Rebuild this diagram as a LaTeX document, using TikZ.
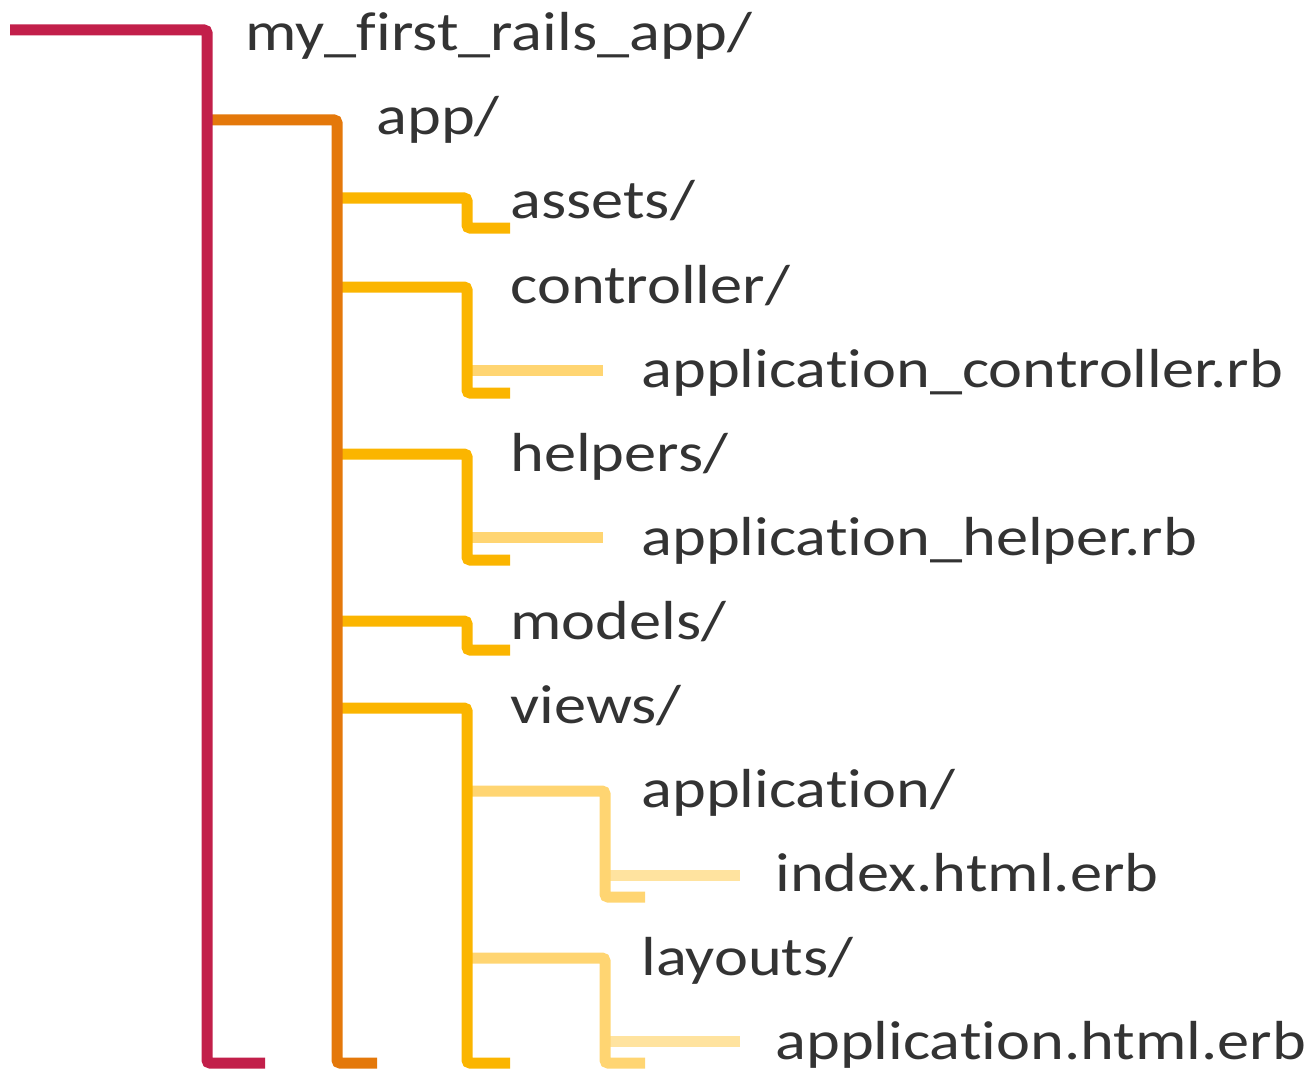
\documentclass[tikz,border=0pt]{standalone}
\usepackage{fontspec}
\setmainfont[FakeStretch=1.17, Ligatures=NoCommon]{Carlito}
\usetikzlibrary{positioning}

\definecolor{lvlzero}{HTML}{C21F4A}
\definecolor{lvlone}{HTML}{E4780A}
\definecolor{lvltwo}{HTML}{FBB500}
\definecolor{lvlthree}{HTML}{FFD572}
\definecolor{lvlfour}{HTML}{FFE39F}
\definecolor{txtgray}{HTML}{333333}

\begin{document}
\begin{tikzpicture}[
				x=0.5pt, y=-0.5pt,
				branch/.style={line width=5.5pt, rounded corners=1.5pt},
				entry/.style={anchor=base west, inner sep=0pt, text=txtgray, font=\fontsize{27.5}{30}\selectfont}
			]

			\useasboundingbox (0, 0) rectangle (1309, 1075);

			% x positions of the vertical bars
			\def \xa {207}
			\def \xb {337}
			\def \xc {467}
			\def \xd {605}

			% deepest files first
			\draw[branch, lvlfour] (\xd, 875) -- (740, 875);
			\draw[branch, lvlfour] (\xd, 1041) -- (740, 1041);

			\draw[branch, lvlthree] (\xc, 370) -- (603, 370);
			\draw[branch, lvlthree] (\xc, 537) -- (603, 537);
			\draw[branch, lvlthree] (\xc, 791) -| (\xd, 897) -- (645, 897);
			\draw[branch, lvlthree] (\xc, 958) -| (\xd, 1063) -- (645, 1063);

			\foreach \y/\e in {198/228, 287/393, 454/560, 621/650, 708/1063} {
					\draw[branch, lvltwo] (\xb, \y) -| (\xc, \e) -- (510, \e);
				}

			\draw[branch, lvlone] (\xa, 120) -| (\xb, 1063) -- (377, 1063);
			\draw[branch, lvlzero] (10, 30) -| (\xa, 1063) -- (265, 1063);

			% labels
			\node[entry] (root) at (245, 51) {my\_first\_rails\_app/};
			\node[entry] (app) at (376, 135) {app/};
			\node[entry] (assets) at (510, 219) {assets/};
			\node[entry] (controller) at (510, 303) {controller/};
			\node[entry] (appcontroller) at (641, 387) {application\_controller.rb};
			\node[entry] (helpers) at (510, 471) {helpers/};
			\node[entry] (apphelper) at (641, 555) {application\_helper.rb};
			\node[entry] (models) at (510, 639) {models/};
			\node[entry] (views) at (510, 723) {views/};
			\node[entry] (application) at (641, 807) {application/};
			\node[entry] (index) at (775, 891) {index.html.erb};
			\node[entry] (layouts) at (641, 975) {layouts/};
			\node[entry] (applayout) at (775, 1059) {application.html.erb};

		\end{tikzpicture}
\end{document}
